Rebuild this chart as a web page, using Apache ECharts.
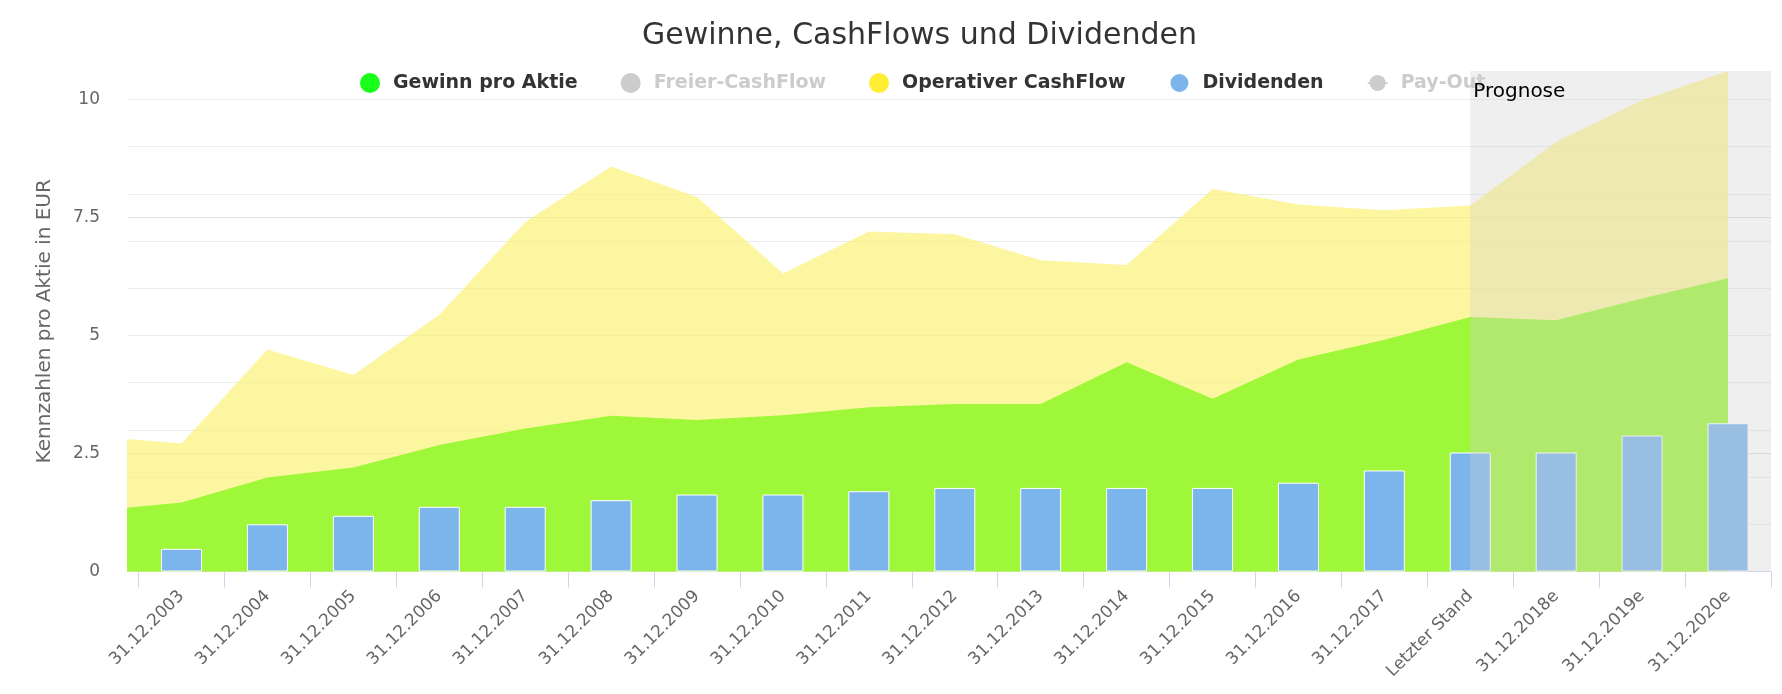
<!DOCTYPE html>
<html>
<head>
<meta charset="utf-8">
<script src="https://cdn.jsdelivr.net/npm/echarts@6/dist/echarts.min.js"></script>
<style>
html,body{margin:0;padding:0;background:#fff;}
#chart{width:1782px;height:694px;}
</style>
</head>
<body>
<div id="chart"></div>
<script>
// ---- data ----
var categories = ['31.12.2003','31.12.2004','31.12.2005','31.12.2006','31.12.2007','31.12.2008','31.12.2009','31.12.2010','31.12.2011','31.12.2012','31.12.2013','31.12.2014','31.12.2015','31.12.2016','31.12.2017','Letzter Stand','31.12.2018e','31.12.2019e','31.12.2020e'];
var gewinnProAktie = [1.46,1.99,2.20,2.68,3.03,3.30,3.21,3.31,3.48,3.55,3.55,4.43,3.66,4.49,4.91,5.39,5.32,5.78,6.21];
var operativerCashFlow = [2.71,4.70,4.16,5.44,7.40,8.58,7.93,6.31,7.20,7.14,6.59,6.49,8.10,7.77,7.65,7.75,9.10,9.98,10.60];
var dividenden = [0.48,1.00,1.18,1.37,1.37,1.51,1.63,1.63,1.70,1.77,1.77,1.77,1.77,1.88,2.14,2.52,2.52,2.88,3.14];
// previous year (31.12.2002) values, only partly visible at the left edge
var gewinn2002 = 1.29;
var opCF2002 = 2.86;
var freierCashFlow = [];   // hidden in legend
var payOut = [];           // hidden in legend
var yTicks = [0, 2.5, 5, 7.5, 10];
var prognoseStart = 'Letzter Stand';

// ---- build ----
var FONT = 'DejaVu Sans';
var xMin = -0.623, xMax = categories.length - 0.5;
var yMax = 10.6;
function pairs(prev, arr){ var out = [[-1, prev]]; arr.forEach(function(v,i){ out.push([i, v]); }); return out; }
function pairsOnly(arr){ return arr.map(function(v,i){ return [i, v]; }); }
var tickVals = []; for (var i = 0; i <= categories.length; i++) tickVals.push(i - 0.5);
var labelVals = categories.map(function(c,i){ return i; });

var chart = echarts.init(document.getElementById('chart'));
chart.setOption({
  animation: false,
  backgroundColor: '#fff',
  title: {
    text: 'Gewinne, CashFlows und Dividenden',
    left: 642, top: 21, padding: 0,
    textStyle: {fontFamily: FONT, fontSize: 30, fontWeight: 'normal', color: '#333'}
  },
  legend: {
    data: [
      {name: 'Gewinn pro Aktie', icon: 'circle'},
      {name: 'Freier-CashFlow', icon: 'circle'},
      {name: 'Operativer CashFlow', icon: 'circle'},
      {name: 'Dividenden', icon: 'circle'},
      {name: 'Pay-Out'}
    ],
    selected: {'Freier-CashFlow': false, 'Pay-Out': false},
    left: 360, top: 72, padding: 0,
    itemWidth: 20, itemHeight: 20, itemGap: 43,
    inactiveColor: '#ccc',
    textStyle: {fontFamily: FONT, fontSize: 19, fontWeight: 'bold', color: '#333', padding: [0,0,0,8]}
  },
  grid: {left: 128, right: 11, top: 71, bottom: 122.5, containLabel: false},
  xAxis: {
    type: 'value', min: xMin, max: xMax,
    splitLine: {show: false},
    axisLine: {show: true, lineStyle: {color: '#ccd6eb', width: 1}},
    axisTick: {show: true, customValues: tickVals, length: 16, lineStyle: {color: '#ccd6eb'}},
    axisLabel: {
      customValues: labelVals, rotate: 45, margin: 22,
      fontFamily: FONT, fontSize: 17, color: '#666',
      formatter: function(v){ return categories[Math.round(v)] || ''; }
    }
  },
  yAxis: [{
    type: 'value', min: 0, max: yMax, interval: yTicks[1] - yTicks[0],
    name: 'Kennzahlen pro Aktie in EUR', nameLocation: 'middle', nameGap: 73, nameRotate: 90,
    nameTextStyle: {fontFamily: FONT, fontSize: 20, color: '#666'},
    axisLine: {show: false}, axisTick: {show: false},
    axisLabel: {margin: 28, fontFamily: FONT, fontSize: 17, color: '#666', showMaxLabel: false},
    splitLine: {show: true, showMaxLine: false, lineStyle: {color: '#dedede'}}
  }, {
    type: 'value', min: 0, max: yMax, interval: 1, position: 'right',
    axisLine: {show: false}, axisTick: {show: false}, axisLabel: {show: false},
    splitLine: {show: true, showMaxLine: false, lineStyle: {color: '#ececec'}}
  }],
  series: [
    {
      name: 'Operativer CashFlow', type: 'line', data: pairs(opCF2002, operativerCashFlow),
      symbol: 'none', z: 1, lineStyle: {opacity: 0},
      itemStyle: {color: '#ffee33'},
      areaStyle: {color: 'rgba(252,242,120,0.7)', opacity: 1}
    },
    {
      name: 'Gewinn pro Aktie', type: 'line', data: pairs(gewinn2002, gewinnProAktie),
      symbol: 'none', z: 2, lineStyle: {opacity: 0},
      itemStyle: {color: '#19ff19'},
      areaStyle: {color: '#9ff73a', opacity: 1}
    },
    {
      name: 'Freier-CashFlow', type: 'line', data: freierCashFlow, symbol: 'none',
      itemStyle: {color: '#90ed7d'}, areaStyle: {}
    },
    {
      name: 'Dividenden', type: 'bar', data: pairsOnly(dividenden), z: 3,
      barWidth: 41,
      itemStyle: {color: '#7cb5ec', borderColor: '#fff', borderWidth: 1}
    },
    {
      name: 'Pay-Out', type: 'line', data: payOut, yAxisIndex: 1,
      symbol: 'circle', symbolSize: 8, itemStyle: {color: '#434348'}
    },
    {
      name: 'Prognose', type: 'line', data: [], z: 10, silent: true,
      markArea: {
        silent: true, z: 10,
        itemStyle: {color: 'rgba(207,207,207,0.34)'},
        label: {show: true, position: [3, 11], color: '#000', fontFamily: FONT, fontSize: 20},
        data: [[{name: 'Prognose', xAxis: categories.indexOf(prognoseStart)}, {xAxis: xMax}]]
      }
    }
  ]
});
</script>
</body>
</html>
